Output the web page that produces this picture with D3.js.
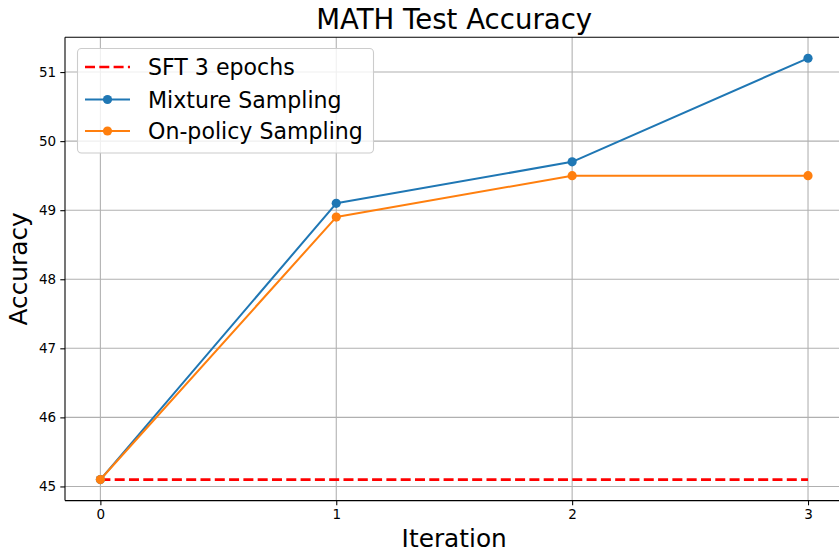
<!DOCTYPE html>
<html>
<head>
<meta charset="utf-8">
<script src="https://cdn.jsdelivr.net/npm/d3@7/dist/d3.min.js"></script>
<style>
html,body{margin:0;padding:0;background:#fff;}
svg{display:block;font-family:"DejaVu Sans",sans-serif;}
</style>
</head>
<body>
<svg id="chart" width="839" height="554"></svg>
<script>
const iterations = [0, 1, 2, 3];
const mixture = [45.1, 49.1, 49.7, 51.2];
const onPolicy = [45.1, 48.9, 49.5, 49.5];
const sftValue = 45.1;
const yTicks = [45, 46, 47, 48, 49, 50, 51];
const xTicks = [0, 1, 2, 3];
const seriesNames = ["SFT 3 epochs", "Mixture Sampling", "On-policy Sampling"];

const svg = d3.select("#chart");
const L = 65, R = 843.4, T = 37.2, B = 500.6;

const x = d3.scaleLinear().domain([-0.15, 3.15]).range([L, R]);
const y = d3.scaleLinear().domain([44.795, 51.505]).range([B, T]);

// grid
const g = svg.append("g");
g.selectAll(".gx").data(xTicks).enter().append("line")
  .attr("x1", d => x(d)).attr("x2", d => x(d)).attr("y1", T).attr("y2", B)
  .attr("stroke", "#b0b0b0").attr("stroke-width", 1.08);
g.selectAll(".gy").data(yTicks).enter().append("line")
  .attr("x1", L).attr("x2", R).attr("y1", d => y(d)).attr("y2", d => y(d))
  .attr("stroke", "#b0b0b0").attr("stroke-width", 1.08);

// axes
const xAxis = d3.axisBottom(x).tickValues(xTicks).tickFormat(d3.format("d")).tickSizeOuter(0).tickSize(4.7).tickPadding(4.2);
const yAxis = d3.axisLeft(y).tickValues(yTicks).tickFormat(d3.format("d")).tickSizeOuter(0).tickSize(4.7).tickPadding(4.2);
const gx = svg.append("g").attr("transform", `translate(0,${B})`).call(xAxis);
const gy = svg.append("g").attr("transform", `translate(${L},0)`).call(yAxis);
[gx, gy].forEach(a => {
  a.select(".domain").remove();
  a.selectAll("line").attr("stroke", "#000").attr("stroke-width", 1.08);
  a.selectAll("text").attr("font-family", "DejaVu Sans").attr("font-size", 13.5).attr("fill", "#000");
});

// series
const line = d3.line().x((d, i) => x(iterations[i])).y(d => y(d));
svg.append("line")
  .attr("x1", x(iterations[0])).attr("x2", x(iterations[iterations.length - 1]))
  .attr("y1", y(sftValue)).attr("y2", y(sftValue))
  .attr("stroke", "#ff0000").attr("stroke-width", 2.7).attr("stroke-dasharray", "10,4.3");

function drawSeries(vals, color) {
  svg.append("path").datum(vals).attr("d", line)
    .attr("fill", "none").attr("stroke", color).attr("stroke-width", 2.03).attr("stroke-linejoin", "round").attr("stroke-linecap", "square");
  svg.selectAll(null).data(vals).enter().append("circle")
    .attr("cx", (d, i) => x(iterations[i])).attr("cy", d => y(d)).attr("r", 4.6)
    .attr("fill", color);
}
drawSeries(mixture, "#1f77b4");
drawSeries(onPolicy, "#ff7f0e");

// spines
svg.append("line").attr("x1", L).attr("x2", L).attr("y1", T).attr("y2", B).attr("stroke", "#000").attr("stroke-width", 1.08);
svg.append("line").attr("x1", L).attr("x2", R).attr("y1", B).attr("y2", B).attr("stroke", "#000").attr("stroke-width", 1.08);
svg.append("line").attr("x1", L).attr("x2", R).attr("y1", T).attr("y2", T).attr("stroke", "#000").attr("stroke-width", 1.08);
svg.append("line").attr("x1", R).attr("x2", R).attr("y1", T).attr("y2", B).attr("stroke", "#000").attr("stroke-width", 1.08);

// title & labels
svg.append("text").attr("x", (L + R) / 2).attr("y", 28.5).attr("text-anchor", "middle")
  .attr("font-size", 27.6).text("MATH Test Accuracy");
svg.append("text").attr("x", (L + R) / 2).attr("y", 547).attr("text-anchor", "middle")
  .attr("font-size", 24.8).text("Iteration");
svg.append("text").attr("transform", `translate(26.5,${(T + B) / 2}) rotate(-90)`).attr("text-anchor", "middle")
  .attr("font-size", 24.8).text("Accuracy");

// legend
const lg = svg.append("g");
lg.append("rect").attr("x", 77.5).attr("y", 48.5).attr("width", 296).attr("height", 104.5).attr("rx", 4)
  .attr("fill", "#fff").attr("fill-opacity", 0.8).attr("stroke", "#cccccc").attr("stroke-width", 1.08);
const rowY = [67, 99.5, 131];
const colors = ["#ff0000", "#1f77b4", "#ff7f0e"];
seriesNames.forEach((name, i) => {
  const yy = rowY[i];
  if (i === 0) {
    lg.append("line").attr("x1", 85).attr("x2", 130).attr("y1", yy).attr("y2", yy)
      .attr("stroke", colors[i]).attr("stroke-width", 2.7).attr("stroke-dasharray", "10,4.3");
  } else {
    lg.append("line").attr("x1", 85).attr("x2", 130).attr("y1", yy).attr("y2", yy)
      .attr("stroke", colors[i]).attr("stroke-width", 2.03);
    lg.append("circle").attr("cx", 107.5).attr("cy", yy).attr("r", 4.6).attr("fill", colors[i]);
  }
  lg.append("text").attr("x", 148).attr("y", yy + 8).attr("font-size", 22.1).text(name);
});
</script>
</body>
</html>
